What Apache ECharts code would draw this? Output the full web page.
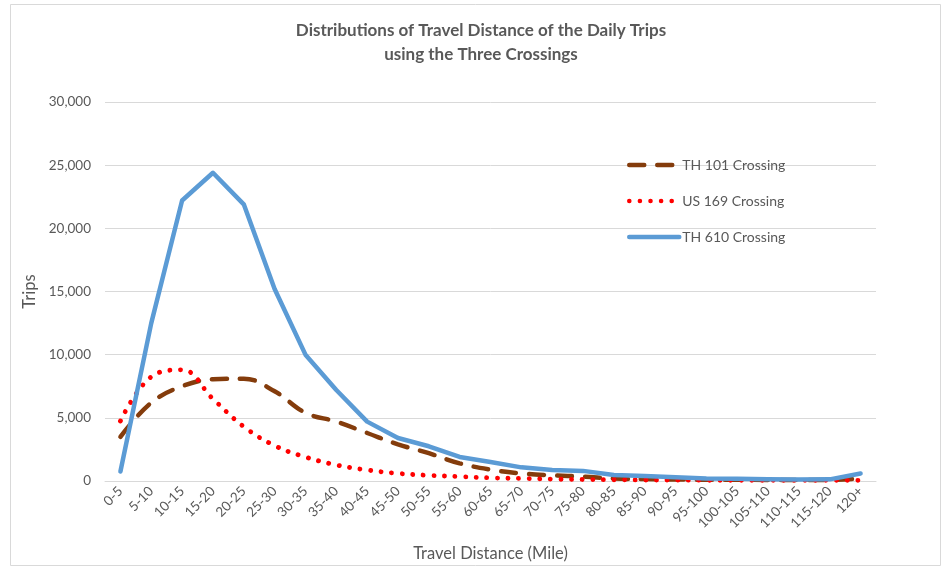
<!DOCTYPE html>
<html>
<head>
<meta charset="utf-8">
<script src="https://cdn.jsdelivr.net/npm/echarts@6/dist/echarts.min.js"></script>
<style>
  html, body { margin: 0; padding: 0; background: #fff; }
  #chart { width: 942px; height: 569px; }
</style>
</head>
<body>
<div id="chart"></div>
<script>
// distance bins (miles)
var distBins = ['0-5', '5-10', '10-15', '15-20', '20-25', '25-30', '30-35', '35-40',
  '40-45', '45-50', '50-55', '55-60', '60-65', '65-70', '70-75', '75-80', '80-85',
  '85-90', '90-95', '95-100', '100-105', '105-110', '110-115', '115-120', '120+'];

// daily trips per crossing
var th101 = [3500, 6200, 7500, 8050, 8100, 7100, 5400, 4700, 3800, 2900, 2200, 1400,
  900, 600, 450, 350, 200, 150, 120, 100, 100, 80, 80, 80, 200];
var us169 = [4750, 8250, 8800, 6500, 4300, 2800, 1900, 1270, 870, 600, 450, 350,
  250, 200, 150, 120, 100, 80, 70, 60, 50, 50, 50, 50, 50];
var th610 = [750, 12500, 22200, 24400, 21900, 15200, 10000, 7200, 4700, 3400, 2750, 1900,
  1500, 1080, 870, 800, 470, 400, 300, 200, 170, 140, 120, 130, 600];

var yTicks = [0, 5000, 10000, 15000, 20000, 25000, 30000];

var txt = '#595959';
var font = 'Lato, "Open Sans", sans-serif';

var chart = echarts.init(document.getElementById('chart'));
chart.setOption({
  backgroundColor: '#fff',
  animation: false,
  textStyle: { fontFamily: font },
  graphic: [{
    type: 'rect',
    shape: { x: 10.5, y: 4.5, width: 930, height: 561 },
    style: { fill: 'none', stroke: '#d9d9d9', lineWidth: 1 },
    silent: true
  }],
  title: {
    text: 'Distributions of Travel Distance of the Daily Trips\nusing the Three Crossings',
    left: 476,
    top: 14,
    textAlign: 'center',
    textStyle: { fontSize: 17, fontWeight: 'bold', color: txt, lineHeight: 24, fontFamily: font }
  },
  legend: {
    orient: 'vertical',
    left: 622,
    top: 153,
    itemGap: 22,
    itemWidth: 50,
    itemHeight: 14,
    itemStyle: { opacity: 0 },
    lineStyle: { width: 4.5 },
    textStyle: { fontSize: 14, color: txt, padding: [0, 0, 0, -2] },
    data: ['TH 101 Crossing', 'US 169 Crossing', 'TH 610 Crossing']
  },
  grid: { left: 105, right: 66, top: 102, bottom: 88 },
  xAxis: {
    type: 'category',
    data: distBins,
    boundaryGap: true,
    name: 'Travel Distance (Mile)',
    nameLocation: 'middle',
    nameGap: 64,
    nameTextStyle: { fontSize: 16.5, color: txt },
    axisLine: { lineStyle: { color: '#d9d9d9', width: 1 } },
    axisTick: { show: false },
    axisLabel: { interval: 0, rotate: 45, fontSize: 13.5, color: txt, margin: 8 }
  },
  yAxis: {
    type: 'value',
    min: 0,
    max: 30000,
    interval: 5000,
    name: 'Trips',
    nameLocation: 'middle',
    nameGap: 67,
    nameTextStyle: { fontSize: 16.5, color: txt },
    axisLine: { show: false },
    axisTick: { show: false },
    splitLine: { lineStyle: { color: '#d9d9d9', width: 1 } },
    axisLabel: {
      fontSize: 13.5, color: txt, margin: 14,
      formatter: function (v) { return yTicks.indexOf(v) >= 0 ? v.toLocaleString('en-US') : ''; }
    }
  },
  series: [
    {
      name: 'TH 101 Crossing',
      type: 'line',
      data: th101,
      smooth: 0.4,
      symbol: 'none',
      z: 2,
      itemStyle: { color: '#843c0c' },
      lineStyle: { color: '#843c0c', width: 4.5, type: [15, 13], cap: 'round' }
    },
    {
      name: 'US 169 Crossing',
      type: 'line',
      data: us169,
      smooth: 0.4,
      symbol: 'none',
      z: 3,
      itemStyle: { color: '#ff0000' },
      lineStyle: { color: '#ff0000', width: 4.8, type: [0.1, 10.5], cap: 'round' }
    },
    {
      name: 'TH 610 Crossing',
      type: 'line',
      data: th610,
      symbol: 'none',
      z: 4,
      itemStyle: { color: '#5b9bd5' },
      lineStyle: { color: '#5b9bd5', width: 4.5, cap: 'round', join: 'round' }
    }
  ]
});
</script>
</body>
</html>
